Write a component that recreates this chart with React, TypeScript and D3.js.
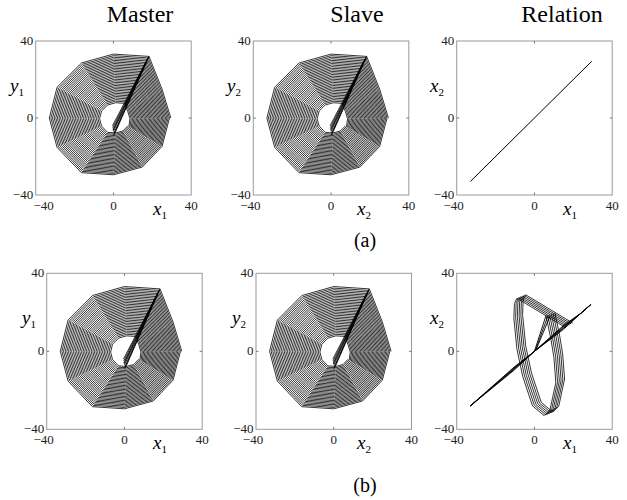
import React, { useEffect, useRef } from 'react'
import * as d3 from 'd3'

type Pt = [number, number]

// outer turn of the master / slave attractor, counter-clockwise from the right
const ringVertices: Pt[] = [
  [29.5, 0], [25, 15], [18.3, 32], [0, 33.2], [-16.4, 28.6], [-29, 16],
  [-33, 0], [-29, -15.3], [-16.5, -28.4], [0, -29.5], [14.8, -25.5], [25, -14.8],
]
const spiralCenter: Pt = [1.5, -0.5]
// relative size of each turn, outside in
const ringScale = [
  1.0, 0.976, 0.952, 0.927, 0.903, 0.879, 0.855, 0.831, 0.806, 0.782, 0.758,
  0.734, 0.71, 0.685, 0.661, 0.637, 0.613, 0.589, 0.565, 0.54, 0.516, 0.492,
  0.468, 0.444, 0.419, 0.395, 0.371, 0.347, 0.323, 0.298, 0.274, 0.25,
]
// dark fan through the hole up to the tip
const fanFrom: Pt[] = [[0, -9], [0.5, -8.5], [0.2, -8], [0, -7], [-0.2, -6.5], [-0.3, -6], [-0.4, -5], [-0.5, -4]]
const fanTo: Pt[] = [[18.3, 32], [18.1, 31.8], [18, 31.5], [17.6, 30.8], [17.4, 30.4], [17.2, 30], [16.8, 29.3], [16.4, 28.5]]

// (a) relation x1 vs x2
const relationA: Pt[] = [[-33, -33], [29.5, 29.5]]

// (b) relation: diagonal with two spindles
const diagX = [-33, -10.5, 0, 15, 24, 29]
const diagY: number[][] = [
  [-28, -9.7, 0, 11.3, 19.6, 24],
  [-28, -9.3, 0, 11.8, 19.6, 24],
  [-28, -8.9, 0, 12.3, 19.6, 24],
  [-28, -8.5, 0, 12.8, 19.6, 24],
  [-28, -8.1, 0, 13.3, 19.6, 24],
]
// (b) loop band
const loopBase: Pt[] = [
  [6, 18], [8.5, 6], [10, -3], [11, -16], [8, -30], [5, -33], [-1, -28],
  [-6, -13], [-9, 1], [-10.6, 17], [-10.3, 24.5], [-9, 27.2], [15.3, 12.6],
]
const loopShift = [0, 0.9, 1.8, 2.7, 3.6, 4.5]
const spikeFrom: Pt[] = [[0, 0], [0.4, 0.3], [0.8, 0.7]]
const spikeTo: Pt[] = [[6, 18.5], [7, 18.3], [8, 18]]

const axisTicks = [-40, 0, 40]
const titles = ['Master', 'Slave', 'Relation']
const captions = ['(a)', '(b)']
const xLabels = [['x', '1'], ['x', '2'], ['x', '1']]
const yLabels = [['y', '1'], ['y', '2'], ['x', '2']]

const rows = [
  { top: 41, bottom: 195, lefts: [35.7, 253.3, 456.7], yLabX: [10, 227, 430], firstTickShift: 8 },
  { top: 273.3, bottom: 429.3, lefts: [46.7, 256, 456.7], yLabX: [22, 232, 430], firstTickShift: -3 },
]
const boxW = 155.5
const xLabX = [153, 357, 563]
const titleX = [140, 357, 562]
const serif = '"Liberation Serif", "Times New Roman", serif'

export default function App() {
  const svgRef = useRef<SVGSVGElement>(null)

  useEffect(() => {
    if (!svgRef.current) return
    const svg = d3.select(svgRef.current)
    svg.selectAll('*').remove()

    const spiral: Pt[] = []
    ringScale.forEach((s) => {
      ringVertices.forEach((v) => {
        spiral.push([
          spiralCenter[0] + s * (v[0] - spiralCenter[0]),
          spiralCenter[1] + s * (v[1] - spiralCenter[1]),
        ])
      })
    })

    const fmt = d3.format('d')

    rows.forEach((row, ri) => {
      row.lefts.forEach((left, ci) => {
        const x = d3.scaleLinear().domain([-40, 40]).range([left, left + boxW])
        const y = d3.scaleLinear().domain([-40, 40]).range([row.bottom, row.top])
        const line = d3.line<Pt>().x((d) => x(d[0])).y((d) => y(d[1]))
        const g = svg.append('g')

        const seg = (a: Pt[], b: Pt[], w: number) =>
          a.forEach((p, i) => {
            g.append('path')
              .attr('d', line([p, b[i]]))
              .attr('fill', 'none')
              .attr('stroke', '#000')
              .attr('stroke-width', w)
          })

        if (ci < 2) {
          g.append('path')
            .attr('d', line(spiral))
            .attr('fill', 'none')
            .attr('stroke', '#000')
            .attr('stroke-width', 0.8)
            .attr('stroke-linejoin', 'bevel')
          seg(fanFrom, fanTo, 0.8)
        } else if (ri === 0) {
          g.append('path')
            .attr('d', line(relationA))
            .attr('fill', 'none')
            .attr('stroke', '#000')
            .attr('stroke-width', 1)
        } else {
          diagY.forEach((ys) => {
            g.append('path')
              .attr('d', line(diagX.map((xv, i) => [xv, ys[i]] as Pt)))
              .attr('fill', 'none')
              .attr('stroke', '#000')
              .attr('stroke-width', 0.9)
          })
          loopShift.forEach((d) => {
            g.append('path')
              .attr('d', line(loopBase.map((p) => [p[0] + d, p[1] + 0.4 * d] as Pt)))
              .attr('fill', 'none')
              .attr('stroke', '#000')
              .attr('stroke-width', 0.8)
          })
          seg(spikeFrom, spikeTo, 0.9)
        }

        // axes box
        g.append('rect')
          .attr('x', x(-40))
          .attr('y', y(40))
          .attr('width', x(40) - x(-40))
          .attr('height', y(-40) - y(40))
          .attr('fill', 'none')
          .attr('stroke', '#9a9a9a')
          .attr('stroke-width', 1)

        // little inward ticks at zero
        const tl = 2.5
        g.append('path')
          .attr(
            'd',
            `M${x(0)},${y(40)}v${tl}M${x(0)},${y(-40)}v${-tl}M${x(-40)},${y(0)}h${tl}M${x(40)},${y(0)}h${-tl}`
          )
          .attr('stroke', '#777')
          .attr('stroke-width', 1)

        axisTicks.forEach((t, ti) => {
          g.append('text')
            .attr('x', x(-40) - 2.5)
            .attr('y', y(t) + 4)
            .attr('text-anchor', 'end')
            .style('font-family', serif)
            .style('font-size', '13px')
            .style('fill', '#222')
            .text(fmt(t))
          g.append('text')
            .attr('x', x(t) + (ti === 0 && ci === 0 ? row.firstTickShift : ti === 0 ? -3 : 0))
            .attr('y', y(-40) + 14.5)
            .attr('text-anchor', 'middle')
            .style('font-family', serif)
            .style('font-size', '13px')
            .style('fill', '#222')
            .text(fmt(t))
        })

        // axis labels
        const xl = g.append('text')
          .attr('x', xLabX[ci])
          .attr('y', y(-40) + 20)
          .style('font-family', serif)
          .style('font-size', '19px')
        xl.append('tspan').style('font-style', 'italic').text(xLabels[ci][0])
        xl.append('tspan').attr('dy', 4).style('font-size', '11px').text(xLabels[ci][1])

        const yl = g.append('text')
          .attr('x', row.yLabX[ci])
          .attr('y', y(40) + 51)
          .style('font-family', serif)
          .style('font-size', '19px')
        yl.append('tspan').style('font-style', 'italic').text(yLabels[ci][0])
        yl.append('tspan').attr('dy', 4).style('font-size', '11px').text(yLabels[ci][1])
      })
    })

    titles.forEach((t, i) => {
      svg.append('text')
        .attr('x', titleX[i])
        .attr('y', 22)
        .attr('text-anchor', 'middle')
        .style('font-family', serif)
        .style('font-size', '24px')
        .text(t)
    })

    captions.forEach((c, i) => {
      svg.append('text')
        .attr('x', 365)
        .attr('y', i === 0 ? 247 : 492)
        .attr('text-anchor', 'middle')
        .style('font-family', serif)
        .style('font-size', '20px')
        .text(c)
    })
  }, [])

  return (
    <svg
      ref={svgRef}
      width={627}
      height={500}
      style={{ position: 'absolute', left: 0, top: 0, background: '#fff' }}
    />
  )
}
